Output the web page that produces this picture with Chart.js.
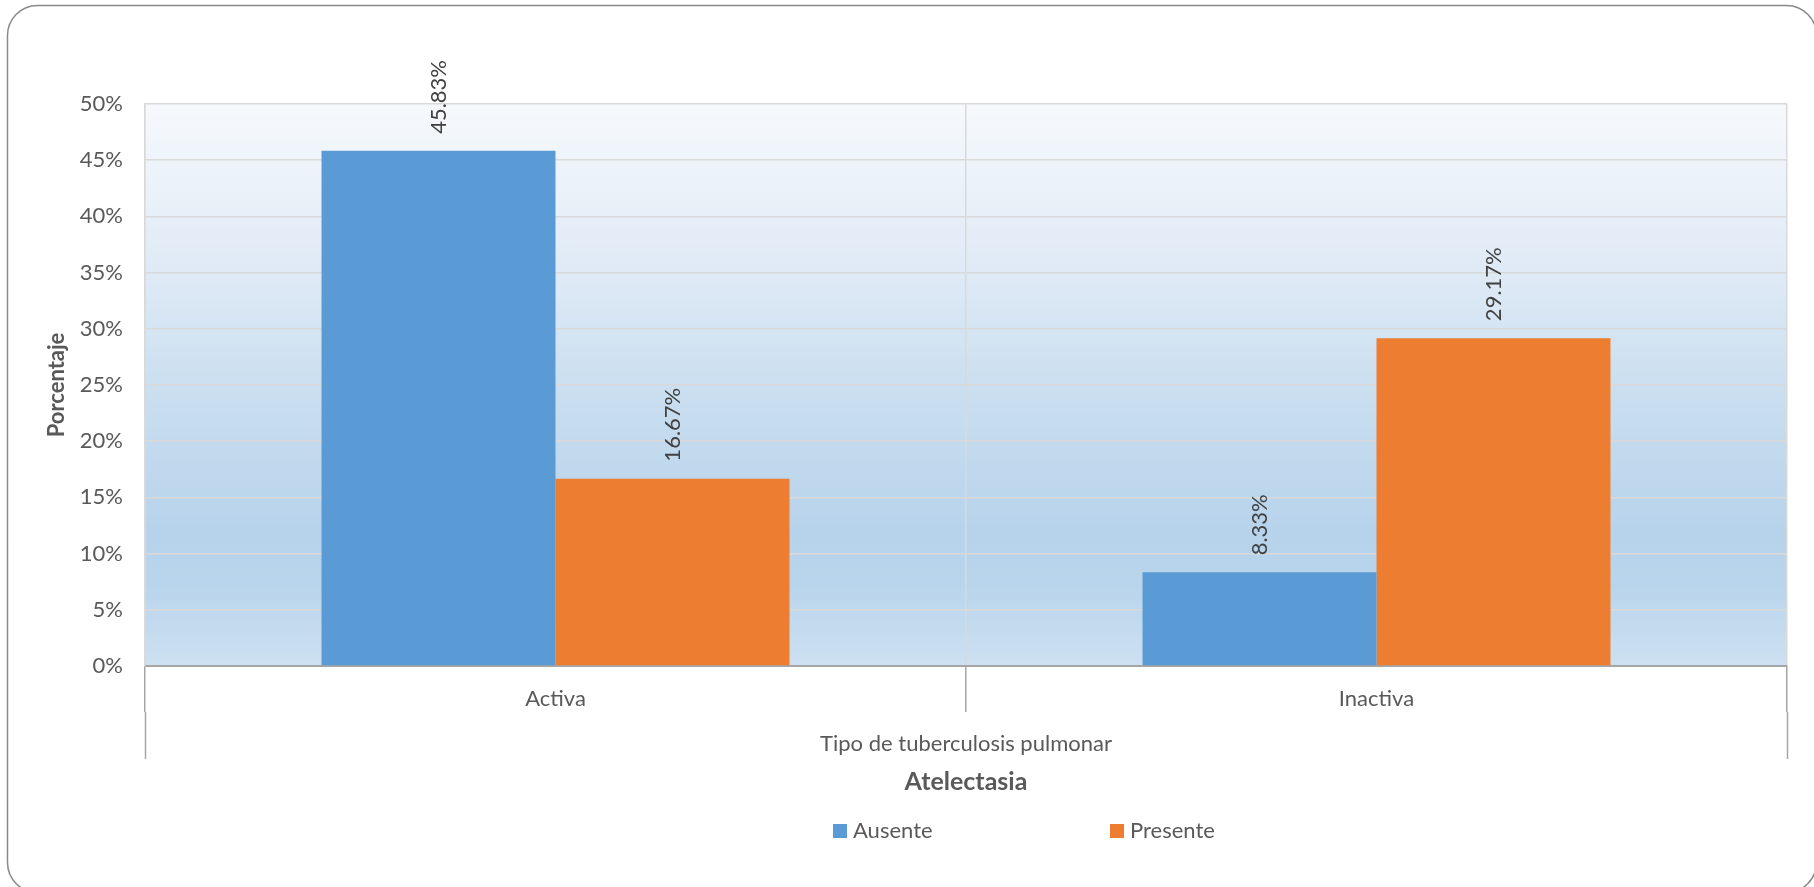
<!DOCTYPE html>
<html>
<head>
<meta charset="utf-8">
<script src="https://cdn.jsdelivr.net/npm/chart.js@4.4.0/dist/chart.umd.min.js"></script>
<style>
  html, body { margin: 0; padding: 0; background: #fff; }
  canvas { display: block; }
</style>
</head>
<body>
<canvas id="chart" width="1814" height="887"></canvas>
<script>
// data
const categories = ['Activa', 'Inactiva'];
const groupLabel = 'Tipo de tuberculosis pulmonar';
const seriesNames = ['Ausente', 'Presente'];
const ausente = [45.83, 8.33];
const presente = [16.67, 29.17];
const seriesColors = ['#5b9bd5', '#ed7d31'];

const textColor = '#595959';
const gridColor = '#d9d9d9';
const axisColor = '#a6a6a6';

Chart.defaults.font.family = 'Lato, "Open Sans", sans-serif';
Chart.defaults.font.size = 22;
Chart.defaults.color = textColor;

// rounded outer frame + gradient plot background
const framePlugin = {
    id: 'frame',
    beforeDraw(chart) {
        const {ctx, chartArea: a} = chart;
        ctx.save();
        const g = ctx.createLinearGradient(0, a.top, 0, a.bottom);
        g.addColorStop(0, '#f6f9fc');
        g.addColorStop(0.3, '#dfeaf6');
        g.addColorStop(0.5, '#cbdff0');
        g.addColorStop(0.76, '#b7d3eb');
        g.addColorStop(0.86, '#b9d5ec');
        g.addColorStop(1, '#cde0f1');
        ctx.fillStyle = g;
        ctx.fillRect(a.left, a.top, a.right - a.left, a.bottom - a.top);

        ctx.strokeStyle = '#8a8a8a';
        ctx.lineWidth = 1.5;
        ctx.beginPath();
        ctx.roundRect(7.5, 5.5, chart.width - 5, chart.height, 30);
        ctx.stroke();
        ctx.restore();
    }
};

// vertical value labels above each bar
const valueLabelPlugin = {
    id: 'valueLabels',
    afterDatasetsDraw(chart) {
        const {ctx} = chart;
        ctx.save();
        ctx.font = '22px Lato, "Open Sans", sans-serif';
        ctx.fillStyle = '#404040';
        ctx.textAlign = 'left';
        ctx.textBaseline = 'middle';
        chart.data.datasets.forEach((ds, i) => {
            chart.getDatasetMeta(i).data.forEach((bar, j) => {
                ctx.save();
                ctx.translate(bar.x, bar.y - 17);
                ctx.rotate(-Math.PI / 2);
                ctx.fillText(ds.data[j].toFixed(2) + '%', 0, 0);
                ctx.restore();
            });
        });
        ctx.restore();
    }
};

// wide-spaced legend under the axis title
const legendPlugin = {
    id: 'wideLegend',
    afterDraw(chart) {
        const {ctx, chartArea: a} = chart;
        const mid = (a.left + a.right) / 2;
        const offsets = [-133, 144];
        const y = chart.height - 56;
        ctx.save();
        ctx.font = '22px Lato, "Open Sans", sans-serif';
        ctx.textAlign = 'left';
        ctx.textBaseline = 'middle';
        chart.data.datasets.forEach((ds, i) => {
            const x = mid + offsets[i];
            ctx.fillStyle = ds.backgroundColor;
            ctx.fillRect(x, y - 7, 14, 14);
            ctx.fillStyle = textColor;
            ctx.fillText(ds.label, x + 20, y);
        });
        ctx.restore();
    }
};

new Chart(document.getElementById('chart'), {
    type: 'bar',
    data: {
        labels: categories,
        datasets: [
            {label: seriesNames[0], data: ausente, backgroundColor: seriesColors[0]},
            {label: seriesNames[1], data: presente, backgroundColor: seriesColors[1]}
        ]
    },
    options: {
        responsive: false,
        animation: false,
        categoryPercentage: 0.57,
        barPercentage: 1.0,
        layout: {
            padding: {left: 40, right: 27, top: 104, bottom: 90}
        },
        scales: {
            x: {
                type: 'category',
                offset: true,
                grid: {
                    offset: true,
                    color: gridColor,
                    lineWidth: 1.5,
                    tickColor: axisColor,
                    tickLength: 46,
                    tickWidth: 1.5
                },
                border: {color: axisColor, width: 2},
                ticks: {padding: -26, color: textColor},
                afterFit(scale) { scale.height = 46; }
            },
            // outer category level + axis title
            x2: {
                type: 'category',
                position: 'bottom',
                labels: [groupLabel],
                offset: true,
                grid: {
                    offset: true,
                    drawOnChartArea: false,
                    tickColor: axisColor,
                    tickLength: 47,
                    tickWidth: 1.5
                },
                border: {display: false},
                ticks: {padding: -28, color: textColor},
                title: {
                    display: true,
                    text: 'Atelectasia',
                    color: textColor,
                    font: {size: 25, weight: 'bold'},
                    padding: {top: 0, bottom: 0}
                },
                afterFit(scale) { scale.height = 85; }
            },
            y: {
                min: 0,
                max: 50,
                ticks: {
                    stepSize: 5,
                    padding: 22,
                    color: textColor,
                    callback: v => v + '%'
                },
                grid: {
                    drawTicks: false,
                    lineWidth: 1.5,
                    color: ctx => ctx.tick && ctx.tick.value === 0 ? 'rgba(0,0,0,0)' : gridColor
                },
                border: {color: gridColor, width: 1.5},
                title: {
                    display: true,
                    text: 'Porcentaje',
                    color: textColor,
                    font: {size: 22, weight: 'bold'},
                    padding: {top: 4, bottom: 0}
                },
                afterFit(scale) { scale.width = 105; }
            }
        },
        plugins: {
            legend: {display: false},
            tooltip: {enabled: false}
        }
    },
    plugins: [framePlugin, valueLabelPlugin, legendPlugin]
});
</script>
</body>
</html>
